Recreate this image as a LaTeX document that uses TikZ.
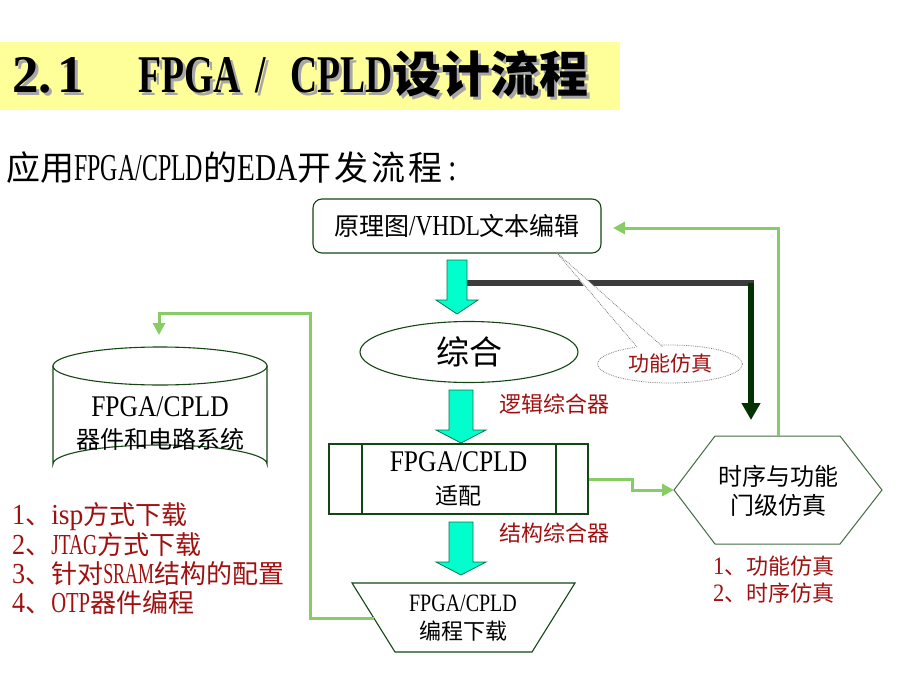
\documentclass[tikz,border=0pt]{standalone}
\usepackage{fontspec}
\setmainfont{Noto Sans CJK SC}
\usetikzlibrary{arrows.meta,shapes.geometric}
\newcommand\lat[3]{{\fontspec{Liberation Serif}[FakeStretch=#1]\fontsize{#2}{#2}\selectfont #3}}
\newcommand\latb[3]{{\fontspec{Liberation Serif}[FakeStretch=#1]\bfseries\fontsize{#2}{#2}\selectfont #3}}
\definecolor{cyanarrow}{RGB}{0,255,204}
\definecolor{arrowedge}{RGB}{0,120,70}
\definecolor{boxedge}{RGB}{20,70,20}
\definecolor{lgreen}{RGB}{136,204,102}
\definecolor{redtxt}{RGB}{160,16,16}
\definecolor{titlebg}{RGB}{255,255,153}
\definecolor{dkgreen}{RGB}{0,51,0}
\definecolor{dkgray}{RGB}{60,60,60}
\tikzset{
  shape box/.style={draw=boxedge, line width=1.1pt, fill=white},
  txt/.style={inner sep=0pt, align=center},
  redt/.style={inner sep=0pt, text=redtxt, anchor=west},
  gline/.style={draw=lgreen, line width=3pt, -{Triangle[width=12pt,length=12pt]}},
  fat/.style={fill=cyanarrow, draw=arrowedge, line width=0.8pt},
}
\newcommand\titletext{\fontsize{49}{49}\selectfont\bfseries
  \latb{1}{53}{2.}\hspace{6pt}\latb{1}{53}{1}\hspace{54pt}\latb{0.71}{53}{FPGA}\hspace{15pt}\latb{0.71}{53}{/}\hspace{24pt}\latb{0.71}{53}{CPLD}设计流程}
\newcommand\rl[1]{\lat{0.62}{29}{#1}}
\begin{document}
\begin{tikzpicture}[x=1pt,y=-1pt]
\useasboundingbox (0,0) rectangle (920,690);
% title
\fill[titlebg] (0,42) rectangle (620,110);
\node[txt, anchor=base west, text=gray!70] (titleshadow) at (15,96) {\titletext};
\node[txt, anchor=base west] (title) at (12,93) {\titletext};
% subtitle
\node[txt, anchor=base west] (subtitle) at (6,180) {\fontsize{34}{34}\selectfont 应用\lat{0.63}{38}{FPGA/CPLD}的\lat{0.77}{38}{EDA}开\hspace{3pt}发\hspace{3pt}流\hspace{3pt}程\hspace{6pt}\lat{0.8}{38}{:}};

% dark line to hexagon
\coordinate (dstart) at (467,283);
\coordinate (dcorner) at (751,283);
\coordinate (dend) at (751,420);
\draw[draw=dkgray, line width=6pt] (dstart) -- (754,283);
\draw[draw=dkgreen, line width=6pt, -{Triangle[width=18pt,length=17pt]}] (dcorner) -- (dend);

% edit box
\node[shape box, rounded corners=9pt, minimum width=288pt, minimum height=54pt, inner sep=0pt,
      font=\fontsize{25}{25}\selectfont] (edit) at (457,226) {原理图\lat{0.8}{29}{/VHDL}文本编辑};

% fat arrow 1
\filldraw[fat] (447,260) -- (467,260) -- (467,300) -- (478,300) -- (457,314) -- (436,300) -- (447,300) -- cycle;

% synth ellipse
\node[shape box, ellipse, minimum width=218pt, minimum height=61pt, inner sep=0pt,
      font=\fontsize{33}{33}\selectfont] (synth) at (469,352) {综合};

% callout
\node[ellipse, draw=gray, densely dotted, line width=0.8pt, minimum width=145pt, minimum height=38pt, inner sep=0pt,
      text=redtxt, font=\fontsize{21}{21}\selectfont] (fsim) at (670,364) {功能仿真};
\coordinate (ctip) at (556,252);
\coordinate (cl) at (637,347);
\coordinate (cr) at (663,347);
\fill[white] (636,349) -- (ctip) -- (664,349) -- cycle;
\draw[gray, densely dotted, line width=0.8pt] (cl) -- (ctip) -- (cr);

% labels
\node[redt, font=\fontsize{22}{22}\selectfont] (lsyn) at (499,404) {逻辑综合器};
\node[redt, font=\fontsize{22}{22}\selectfont] (ssyn) at (499,533) {结构综合器};

% fat arrow 2
\filldraw[fat] (449,390) -- (473,390) -- (473,430) -- (486,430) -- (461,443) -- (436,430) -- (449,430) -- cycle;

% fit box
\node[shape box, minimum width=259pt, minimum height=70pt, inner sep=0pt,
      font=\fontsize{23}{33}\selectfont, align=center] (fit) at (458.5,479) {\lat{0.85}{30}{FPGA/CPLD}\\适配};
\draw[boxedge, line width=1.1pt] (362,444) -- (362,514) (556,444) -- (556,514);

% fat arrow 3
\filldraw[fat] (449,522) -- (473,522) -- (473,562) -- (486,562) -- (461,575) -- (436,562) -- (449,562) -- cycle;

% trapezoid
\filldraw[shape box] (352,583) -- (575,583) -- (532,652) -- (395,652) -- cycle;
\node[txt, font=\fontsize{22}{28}\selectfont] (prog) at (463,618) {\lat{0.8}{25}{FPGA/CPLD}\\编程下载};
\coordinate (trapL) at (374,618);

% cylinder
\filldraw[shape box] (53,366) -- (53,464) arc[start angle=180, end angle=0, x radius=107pt, y radius=19pt] -- (267,366) -- cycle;
\draw[shape box] (160,366) ellipse[x radius=107pt, y radius=19pt];
\node[txt, font=\fontsize{24}{32}\selectfont] (cyl) at (160,424) {\lat{0.85}{30}{FPGA/CPLD}\\器件和电路系统};
\coordinate (cylTop) at (159,335);

% red list left
\node[redt, font=\fontsize{26}{26}\selectfont] (l1) at (12,517) {\lat{0.9}{29}{1}、\lat{0.95}{29}{isp}方式下载};
\node[redt, font=\fontsize{26}{26}\selectfont] (l2) at (12,545) {\lat{0.9}{29}{2}、\lat{0.67}{29}{JTAG}方式下载};
\node[redt, font=\fontsize{26}{26}\selectfont] (l3) at (12,574) {\lat{0.9}{29}{3}、针对\rl{SRAM}结构的配置};
\node[redt, font=\fontsize{26}{26}\selectfont] (l4) at (12,603) {\lat{0.9}{29}{4}、\lat{0.71}{29}{OTP}器件编程};

% hexagon
\coordinate (hexL) at (674,490);
\coordinate (hexT) at (778,436);
\filldraw[fill=white, draw=boxedge!80, line width=1pt] (hexL) -- (715,436) -- (840,436) -- (882,490) -- (840,544) -- (715,544) -- cycle;
\node[txt, font=\fontsize{24}{29}\selectfont] (hex) at (778,491) {时序与功能\\门级仿真};
\node[redt, font=\fontsize{22}{22}\selectfont] (h1) at (713,566) {\lat{0.9}{25}{1}、功能仿真};
\node[redt, font=\fontsize{22}{22}\selectfont] (h2) at (713,593) {\lat{0.9}{25}{2}、时序仿真};

% green connectors
\coordinate (editR) at (613,228);
\draw[gline] (trapL) -- (310,618) |- (159,313) -- (cylTop);
\draw[gline] (fit.east) -- (632,479) |- (hexL);
\draw[gline] (hexT) |- (editR);
\end{tikzpicture}
\end{document}
